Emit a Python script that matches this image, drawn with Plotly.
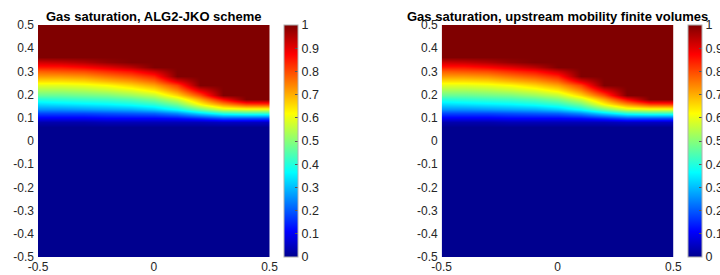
import numpy as np
import plotly.graph_objects as go

# ---------------- data ----------------
X_COLS = [-0.5, -0.4, -0.3, -0.2, -0.1, 0.0, 0.1, 0.2, 0.3, 0.4, 0.5]
Y_BAND = [0.06, 0.08, 0.10, 0.12, 0.14, 0.16, 0.18, 0.20, 0.22,
          0.24, 0.26, 0.28, 0.30, 0.32, 0.34, 0.36, 0.38]
# region fully water (saturation 0) below the band, fully gas (1) above it
Y_BELOW = [round(-0.5 + 0.02 * i, 2) for i in range(28)]
Y_ABOVE = [0.40, 0.42, 0.44, 0.46, 0.48, 0.50]

# Gas-saturation profiles, one list per x column (bottom -> top over Y_BAND)
ALG2_PROFILES = [
    [0, 0.03, 0.10, 0.18, 0.26, 0.33, 0.40, 0.47, 0.53, 0.59, 0.65, 0.72, 0.78, 0.85, 0.92, 1.0, 1.0],
    [0, 0.03, 0.10, 0.18, 0.26, 0.34, 0.41, 0.47, 0.53, 0.59, 0.65, 0.72, 0.79, 0.85, 0.93, 1.0, 1.0],
    [0, 0.03, 0.10, 0.18, 0.27, 0.35, 0.42, 0.48, 0.54, 0.60, 0.66, 0.73, 0.80, 0.87, 0.95, 1.0, 1.0],
    [0, 0.04, 0.11, 0.19, 0.28, 0.36, 0.43, 0.49, 0.56, 0.62, 0.69, 0.76, 0.83, 0.90, 0.98, 1.0, 1.0],
    [0, 0.04, 0.11, 0.20, 0.29, 0.38, 0.45, 0.52, 0.59, 0.66, 0.72, 0.79, 0.86, 0.94, 1.0, 1.0, 1.0],
    [0, 0.04, 0.11, 0.21, 0.32, 0.41, 0.49, 0.56, 0.64, 0.71, 0.77, 0.84, 0.92, 1.0, 1.0, 1.0, 1.0],
    [0, 0.04, 0.12, 0.25, 0.38, 0.48, 0.57, 0.66, 0.74, 0.81, 0.90, 1.0, 1.0, 1.0, 1.0, 1.0, 1.0],
    [0, 0.04, 0.15, 0.33, 0.48, 0.62, 0.71, 0.80, 0.90, 1.0, 1.0, 1.0, 1.0, 1.0, 1.0, 1.0, 1.0],
    [0, 0.05, 0.19, 0.40, 0.58, 0.73, 0.87, 1.0, 1.0, 1.0, 1.0, 1.0, 1.0, 1.0, 1.0, 1.0, 1.0],
    [0, 0.05, 0.19, 0.42, 0.60, 0.81, 1.0, 1.0, 1.0, 1.0, 1.0, 1.0, 1.0, 1.0, 1.0, 1.0, 1.0],
    [0, 0.05, 0.19, 0.42, 0.60, 0.82, 1.0, 1.0, 1.0, 1.0, 1.0, 1.0, 1.0, 1.0, 1.0, 1.0, 1.0],
]
FV_PROFILES = [
    [0, 0.03, 0.10, 0.18, 0.26, 0.33, 0.40, 0.47, 0.53, 0.59, 0.65, 0.72, 0.78, 0.85, 0.92, 1.0, 1.0],
    [0, 0.03, 0.10, 0.18, 0.26, 0.34, 0.41, 0.47, 0.53, 0.59, 0.65, 0.72, 0.79, 0.85, 0.93, 1.0, 1.0],
    [0, 0.03, 0.10, 0.18, 0.27, 0.35, 0.42, 0.48, 0.54, 0.60, 0.66, 0.73, 0.80, 0.87, 0.95, 1.0, 1.0],
    [0, 0.04, 0.11, 0.19, 0.28, 0.36, 0.43, 0.49, 0.56, 0.62, 0.69, 0.76, 0.83, 0.90, 0.98, 1.0, 1.0],
    [0, 0.04, 0.11, 0.20, 0.29, 0.38, 0.45, 0.52, 0.59, 0.66, 0.72, 0.79, 0.86, 0.94, 1.0, 1.0, 1.0],
    [0, 0.04, 0.11, 0.21, 0.32, 0.41, 0.49, 0.56, 0.64, 0.71, 0.77, 0.84, 0.92, 1.0, 1.0, 1.0, 1.0],
    [0, 0.04, 0.12, 0.25, 0.38, 0.48, 0.57, 0.66, 0.74, 0.81, 0.90, 1.0, 1.0, 1.0, 1.0, 1.0, 1.0],
    [0, 0.04, 0.15, 0.33, 0.48, 0.62, 0.71, 0.80, 0.90, 1.0, 1.0, 1.0, 1.0, 1.0, 1.0, 1.0, 1.0],
    [0, 0.05, 0.19, 0.40, 0.58, 0.73, 0.87, 1.0, 1.0, 1.0, 1.0, 1.0, 1.0, 1.0, 1.0, 1.0, 1.0],
    [0, 0.05, 0.19, 0.42, 0.60, 0.81, 1.0, 1.0, 1.0, 1.0, 1.0, 1.0, 1.0, 1.0, 1.0, 1.0, 1.0],
    [0, 0.05, 0.19, 0.42, 0.60, 0.82, 1.0, 1.0, 1.0, 1.0, 1.0, 1.0, 1.0, 1.0, 1.0, 1.0, 1.0],
]
TITLES = ["Gas saturation, ALG2-JKO scheme",
          "Gas saturation, upstream mobility finite volumes"]
Y_TICKS = [-0.5, -0.4, -0.3, -0.2, -0.1, 0, 0.1, 0.2, 0.3, 0.4, 0.5]
Y_TICK_TEXT = ["-0.5", "-0.4", "-0.3", "-0.2", "-0.1", "0", "0.1", "0.2", "0.3", "0.4", "0.5"]
X_TICKS = [-0.5, 0, 0.5]
X_TICK_TEXT = ["-0.5", "0", "0.5"]
CBAR_TICKS = [0, 0.1, 0.2, 0.3, 0.4, 0.5, 0.6, 0.7, 0.8, 0.9, 1]
CBAR_TEXT = ["0", "0.1", "0.2", "0.3", "0.4", "0.5", "0.6", "0.7", "0.8", "0.9", "1"]

# MATLAB jet colormap
JET = [[0.0, "rgb(0,0,143)"], [0.111, "rgb(0,0,255)"], [0.365, "rgb(0,255,255)"],
       [0.619, "rgb(255,255,0)"], [0.873, "rgb(255,0,0)"], [1.0, "rgb(128,0,0)"]]


def build(profiles):
    y = Y_BELOW + Y_BAND + Y_ABOVE
    band = np.array(profiles, dtype=float).T  # rows = y, cols = x
    z = np.vstack([np.zeros((len(Y_BELOW), len(X_COLS))), band,
                   np.ones((len(Y_ABOVE), len(X_COLS)))])
    return y, z


W, H = 720, 275
FONT = "Liberation Sans"
TXT = "#262626"

plot_px = [(38, 269.5), (441.7, 673.3)]
cbar_px = [284.3, 688.3]
top_px, bot_px = 25, 257

fig = go.Figure()
for i, prof in enumerate([ALG2_PROFILES, FV_PROFILES]):
    y, z = build(prof)
    k = "" if i == 0 else "2"
    fig.add_trace(go.Heatmap(
        x=X_COLS, y=y, z=z, zsmooth="best", zmin=0, zmax=1,
        colorscale=JET, xaxis="x" + k, yaxis="y" + k, hoverinfo="skip",
        colorbar=dict(
            x=cbar_px[i] / W, xanchor="left", xpad=0, ypad=0,
            y=1 - (top_px + bot_px) / 2 / H, yanchor="middle",
            len=bot_px - top_px, lenmode="pixels", thickness=14,
            outlinewidth=1, outlinecolor="#b0b0b0",
            tickvals=CBAR_TICKS, ticktext=CBAR_TEXT, ticks="inside", ticklen=3,
            tickcolor="#555", tickfont=dict(family=FONT, size=12.5, color=TXT),
        ),
    ))
    x0, x1 = plot_px[i]
    axis_common = dict(showgrid=False, zeroline=False, ticks="",
                       tickfont=dict(family=FONT, size=12, color=TXT),
                       showline=False)
    fig.layout["xaxis" + k] = dict(axis_common, domain=[x0 / W, x1 / W],
                                   range=[-0.5, 0.5], tickvals=X_TICKS,
                                   ticktext=X_TICK_TEXT,
                                   anchor="y" + k, ticklabelstandoff=1)
    fig.layout["yaxis" + k] = dict(axis_common, domain=[1 - bot_px / H, 1 - top_px / H],
                                   range=[-0.5, 0.5], tickvals=Y_TICKS,
                                   ticktext=Y_TICK_TEXT,
                                   anchor="x" + k, ticklabelstandoff=3)
    fig.add_annotation(text="<b>" + TITLES[i] + "</b>", xref="paper", yref="paper",
                       x=(x0 + x1) / 2 / W, y=1 - 16.5 / H, xanchor="center",
                       yanchor="middle", showarrow=False,
                       font=dict(family=FONT, size=13, color="black"))

fig.update_layout(width=W, height=H, margin=dict(l=0, r=0, t=0, b=0, autoexpand=False),
                  paper_bgcolor="white", plot_bgcolor="white", showlegend=False)
fig.write_html("out.html", config={"displayModeBar": False},
               post_script="document.body.style.margin='0';")
